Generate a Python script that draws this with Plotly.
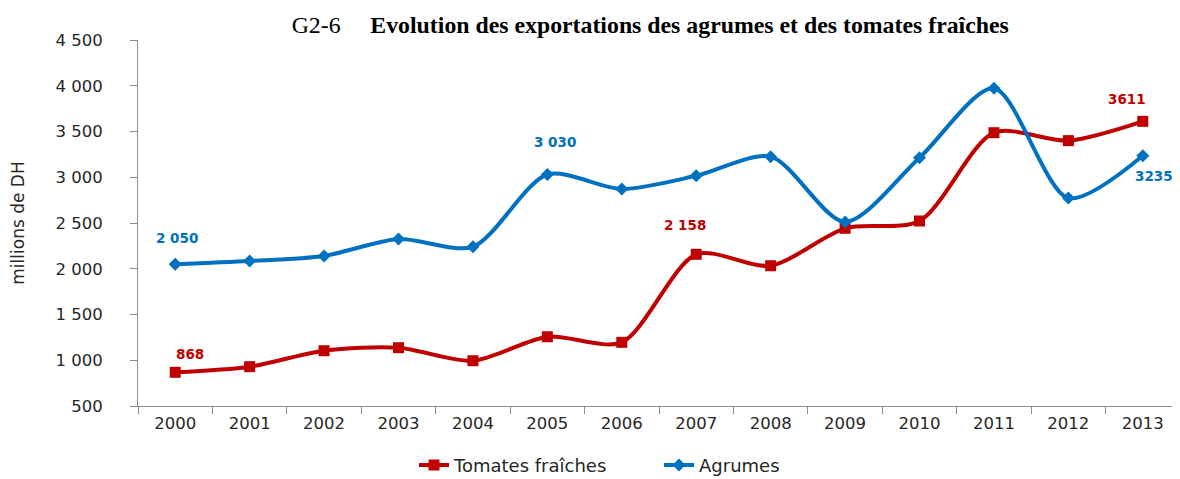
import plotly.graph_objects as go

years = [str(y) for y in range(2000, 2014)]
tomates = [868, 930, 1104, 1137, 995, 1257, 1196, 2158, 2033, 2442, 2522, 3487, 3400, 3611]
agrumes = [2050, 2085, 2140, 2325, 2240, 3030, 2872, 3016, 3225, 2511, 3214, 3972, 2773, 3235]
y_ticks = [500, 1000, 1500, 2000, 2500, 3000, 3500, 4000, 4500]
y_tick_labels = ["500", "1 000", "1 500", "2 000", "2 500", "3 000", "3 500", "4 000", "4 500"]

RED = "#C00000"
BLUE = "#0070C0"
FONT = "DejaVu Sans"

fig = go.Figure()
fig.add_trace(go.Scatter(
    x=years, y=tomates, name="Tomates fraîches", mode="lines+markers",
    line=dict(color=RED, width=4, shape="spline", smoothing=0.8),
    marker=dict(symbol="square", size=11, color=RED),
))
fig.add_trace(go.Scatter(
    x=years, y=agrumes, name="Agrumes", mode="lines+markers",
    line=dict(color=BLUE, width=4, shape="spline", smoothing=0.8),
    marker=dict(symbol="diamond", size=10, color=BLUE),
))

# (index in series, series, text, colour, xshift, yshift)
labels = [
    (0, agrumes, "2 050", BLUE, 2, 26),
    (5, agrumes, "3 030", BLUE, 8, 33),
    (13, agrumes, "3235", BLUE, 11, -20),
    (0, tomates, "868", RED, 15, 18),
    (7, tomates, "2 158", RED, -11, 29),
    (13, tomates, "3611", RED, -16, 22),
]
for i, series, t, c, dx, dy in labels:
    fig.add_annotation(x=i, y=series[i], xref="x", yref="y", text="<b>%s</b>" % t,
                       showarrow=False, xshift=dx, yshift=dy,
                       font=dict(family=FONT, size=13.5, color=c))

# page body has an 8px margin, so the figure is sized to fit the 1180x479 window
fig.update_layout(
    width=1172, height=471,
    paper_bgcolor="white", plot_bgcolor="white",
    margin=dict(l=130, r=0, t=32, b=73, autoexpand=False),
    title=dict(
        text="G2-6     <b>Evolution des exportations des agrumes et des tomates fraîches</b>",
        x=0.548, xanchor="center", y=0.964, yanchor="middle",
        font=dict(family="Liberation Serif", size=23.8, color="black"),
    ),
    font=dict(family=FONT, size=16, color="#262626"),
    showlegend=True,
    legend=dict(orientation="h", x=0.5, xanchor="center", y=-0.162, yanchor="middle",
                font=dict(family=FONT, size=18, color="#262626"), tracegroupgap=0,
                entrywidth=200, entrywidthmode="pixels"),
    xaxis=dict(
        type="category", showgrid=False, showline=True, linecolor="#8c8c8c", linewidth=1,
        ticks="outside", tickson="boundaries", ticklen=7, tickcolor="#8c8c8c",
        range=[-0.5, 13.5], tickfont=dict(family=FONT, size=16.5),
        ticklabelstandoff=2, automargin=False,
    ),
    yaxis=dict(
        range=[500, 4500], tickvals=y_ticks, ticktext=y_tick_labels,
        showgrid=False, showline=True, linecolor="#8c8c8c", linewidth=1,
        ticks="outside", ticklen=7, tickcolor="#8c8c8c", zeroline=False,
        tickfont=dict(family=FONT, size=16.5), ticklabelstandoff=24, automargin=False,
        title=dict(text="millions de DH", font=dict(family=FONT, size=17), standoff=26),
    ),
)

fig.write_html("out.html")
